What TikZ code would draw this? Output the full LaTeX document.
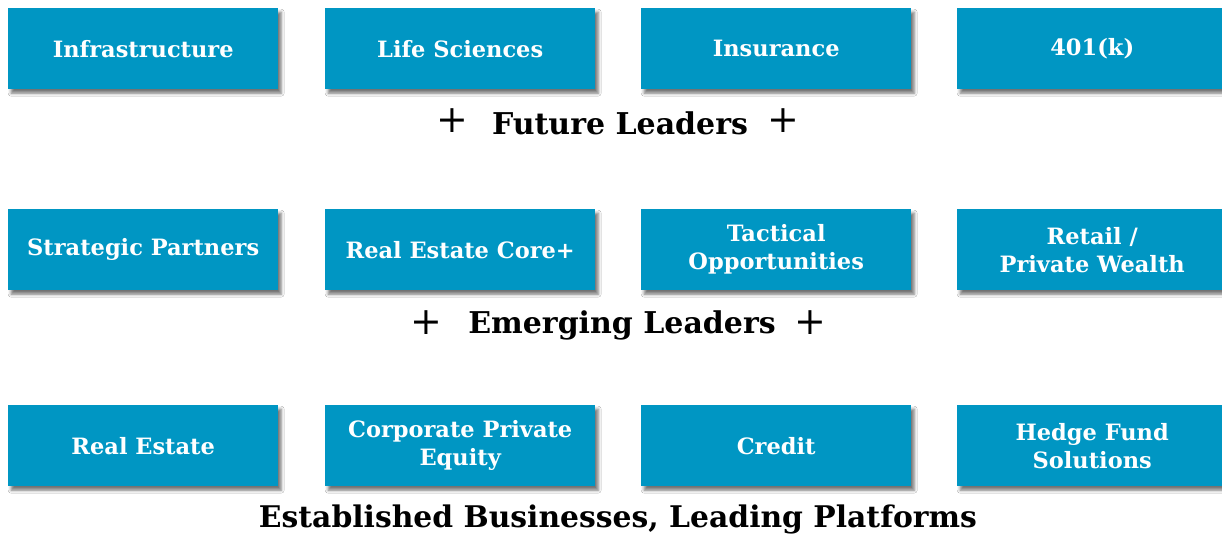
\documentclass[tikz,border=0pt]{standalone}
\usepackage{fontspec}
\setmainfont{DejaVu Serif}
\usetikzlibrary{shadows.blur}
\definecolor{tile}{RGB}{0,150,195}
\tikzset{
  tilebox/.style={fill=tile, draw=none, minimum width=270pt, minimum height=81pt,
    inner sep=0pt, align=center, text=white, anchor=north west,
    font=\fontsize{22.5}{28}\selectfont\bfseries,
    blur shadow={shadow xshift=3pt, shadow yshift=-4pt, shadow blur radius=3pt, shadow opacity=55}},
  tier/.style={font=\fontsize{30}{32}\selectfont\bfseries, text=black, inner sep=0pt},
  plus/.style={font=\fontsize{38}{38}\selectfont, text=black, inner sep=0pt}
}
\begin{document}
\begin{tikzpicture}[x=1pt,y=-1pt]
\useasboundingbox[fill=white] (0,0) rectangle (1222,535);
% top row
\node[tilebox] (inf) at (8,8) {Infrastructure};
\node[tilebox] (life) at (325,8) {Life Sciences};
\node[tilebox] (ins) at (641,8) {Insurance};
\node[tilebox] (k) at (957,8) {401(k)};
\node[tier] (future) at (620,123) {Future Leaders};
\node[plus] (fp1) at (452,121) {+};
\node[plus] (fp2) at (783,121) {+};
% middle row
\node[tilebox] (sp) at (8,209) {Strategic Partners};
\node[tilebox] (rec) at (325,209) {Real Estate Core+};
\node[tilebox] (tac) at (641,209) {Tactical\\Opportunities};
\node[tilebox] (ret) at (957,209) {Retail /\\Private Wealth};
\node[tier] (emerg) at (622,325) {Emerging Leaders};
\node[plus] (ep1) at (426,323) {+};
\node[plus] (ep2) at (810,323) {+};
% bottom row
\node[tilebox] (re) at (8,405) {Real Estate};
\node[tilebox] (cpe) at (325,405) {Corporate Private\\Equity};
\node[tilebox] (cr) at (641,405) {Credit};
\node[tilebox] (hf) at (957,405) {Hedge Fund\\Solutions};
\node[tier, font=\fontsize{29.8}{32}\selectfont\bfseries] (est) at (618,519) {Established Businesses, Leading Platforms};
\end{tikzpicture}
\end{document}
